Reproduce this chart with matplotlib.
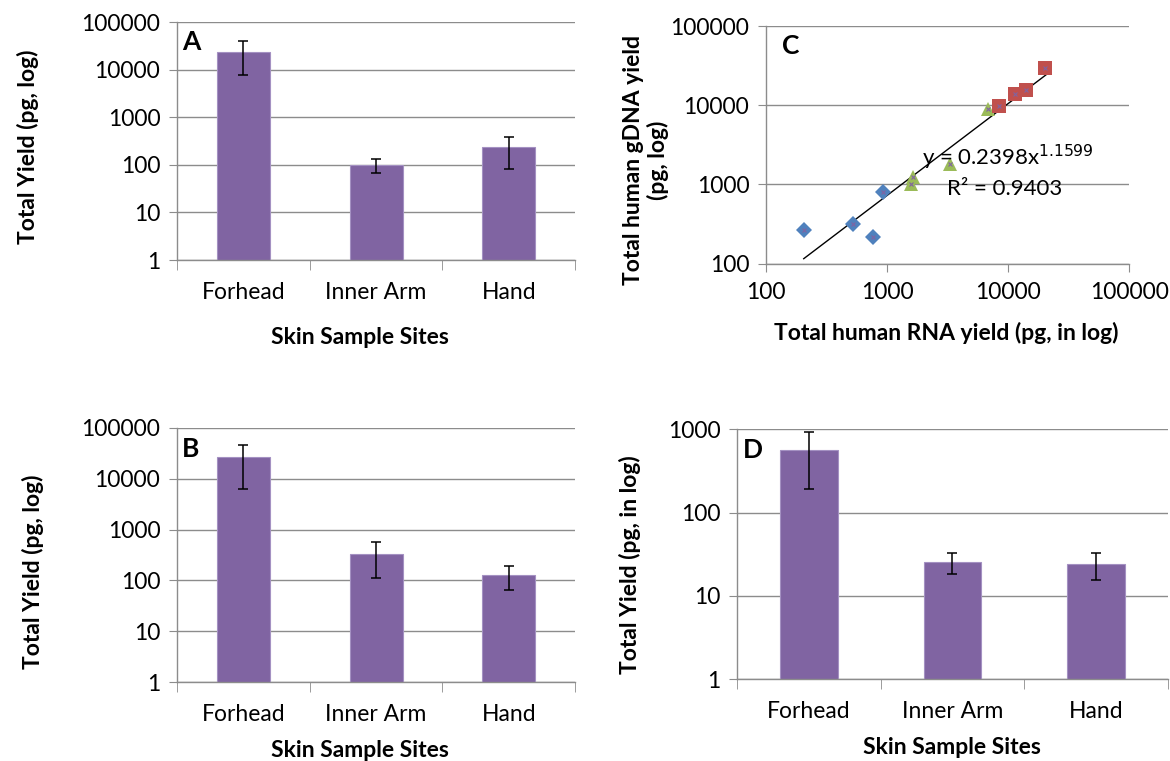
import numpy as np
import matplotlib
matplotlib.use("Agg")
import matplotlib.pyplot as plt
from matplotlib.ticker import FixedLocator, FixedFormatter, NullLocator

plt.rcParams['font.family'] = ['Lato', 'DejaVu Sans']

# ---- data ----
sites = ["Forhead", "Inner Arm", "Hand"]

a_mean = [23800, 100, 233]
a_err = [16000, 33, 150]

b_mean = [26300, 335, 130]
b_err = [20000, 225, 65]

d_mean = [565, 25.4, 24]
d_err = [373, 7, 8.5]

# panel C: RNA yield (x) vs gDNA yield (y)
c_blue_x = [205, 527, 771, 933]
c_blue_y = [269, 315, 215, 792]
c_green_x = [1578, 1651, 3335, 6840]
c_green_y = [1009, 1250, 1808, 9080]
c_red_x = [8470, 11500, 14100, 20200]
c_red_y = [9810, 13770, 15600, 29400]
fit_a, fit_b = 0.2398, 1.1599

bar_color = "#8064A2"
grid_color = "#8C8C8C"
tick_fs = 16.5
lab_fs = 16.5

fig = plt.figure(figsize=(11.7, 7.61), dpi=100)


def style_axes(ax, yticks):
    ax.set_yscale('log')
    ax.set_ylim(yticks[0], yticks[-1])
    ax.yaxis.set_major_locator(FixedLocator(yticks))
    ax.yaxis.set_major_formatter(FixedFormatter([str(t) for t in yticks]))
    ax.yaxis.set_minor_locator(NullLocator())
    ax.grid(axis='y', color=grid_color, linewidth=1.0)
    ax.set_axisbelow(True)
    for s in ['top', 'right']:
        ax.spines[s].set_visible(False)
    for s in ['left', 'bottom']:
        ax.spines[s].set_color(grid_color)
        ax.spines[s].set_linewidth(1.0)
    ax.tick_params(axis='y', which='major', length=6, color=grid_color,
                   labelsize=tick_fs, pad=6)
    ax.set_facecolor('white')


def bar_panel(rect, mean, err, yticks, letter, ylabel, ylab_xy, xlab_xy):
    ax = fig.add_axes(rect)
    x = np.arange(len(sites))
    ax.bar(x, mean, width=0.4, color=bar_color, edgecolor="#A491C2",
           linewidth=0.8, zorder=2)
    ax.errorbar(x, mean, yerr=err, fmt='none', ecolor='black',
                elinewidth=1.1, capsize=3.5, capthick=1.1, zorder=3)
    style_axes(ax, yticks)
    ax.set_xlim(-0.5, len(sites) - 0.5)
    ax.set_xticks(x)
    ax.set_xticklabels(sites)
    ax.set_xticks(np.arange(len(sites) + 1) - 0.5, minor=True)
    ax.tick_params(axis='x', which='major', length=0, labelsize=tick_fs, pad=16)
    ax.tick_params(axis='x', which='minor', length=7, color=grid_color)
    ax.text(*ylab_xy, ylabel, transform=ax.transAxes, rotation=90,
            ha='center', va='center', fontsize=lab_fs, fontweight='bold')
    ax.text(*xlab_xy, "Skin Sample Sites", transform=ax.transAxes,
            ha='center', va='center', fontsize=lab_fs, fontweight='bold')
    ax.text(0.013, 0.918, letter, transform=ax.transAxes, ha='left',
            va='center', fontsize=19, fontweight='bold')
    return ax


# A
bar_panel([0.1513, 0.6583, 0.3402, 0.3127], a_mean, a_err,
          [1, 10, 100, 1000, 10000, 100000], "A", "Total Yield (pg, log)",
          (-0.374, 0.475), (0.46, -0.324))
# B
bar_panel([0.1513, 0.1038, 0.3402, 0.3338], b_mean, b_err,
          [1, 10, 100, 1000, 10000, 100000], "B", "Total Yield (pg, log)",
          (-0.362, 0.433), (0.46, -0.268))
# D
axd = bar_panel([0.6299, 0.1074, 0.3684, 0.3285], d_mean, d_err,
                [1, 10, 100, 1000], "D", "Total Yield (pg, in log)",
                (-0.248, 0.457), (0.499, -0.271))

# C
axc = fig.add_axes([0.6547, 0.6537, 0.3103, 0.3121])
style_axes(axc, [100, 1000, 10000, 100000])
axc.set_xscale('log')
axc.set_xlim(100, 100000)
xt = [100, 1000, 10000, 100000]
axc.xaxis.set_major_locator(FixedLocator(xt))
axc.xaxis.set_major_formatter(FixedFormatter([str(t) for t in xt]))
axc.xaxis.set_minor_locator(NullLocator())
axc.tick_params(axis='x', which='major', length=6, color=grid_color,
                labelsize=tick_fs, pad=7)

allx = c_blue_x + c_green_x + c_red_x
fx = np.geomspace(min(allx), max(allx) * 1.02, 50)
axc.plot(fx, fit_a * fx ** fit_b, color='black', linewidth=1.0, zorder=2)

axc.plot(c_blue_x, c_blue_y, 'D', color="#4F81BD", markersize=8,
         markeredgewidth=0, zorder=3)
axc.plot(c_green_x, c_green_y, '^', color="#9BBB59", markersize=10,
         markeredgewidth=0, zorder=3)
axc.plot(c_red_x, c_red_y, 's', color="#C0504D", markersize=10,
         markeredgewidth=0, zorder=3)
axc.plot(allx, c_blue_y + c_green_y + c_red_y, 'x', color="#8064A2",
         markersize=3, markeredgewidth=0.8, zorder=4)

axc.text(0.43, 0.445, r"y = 0.2398x$^{1.1599}$", transform=axc.transAxes,
         ha='left', va='center', fontsize=16)
axc.text(0.499, 0.315, "R² = 0.9403", transform=axc.transAxes,
         ha='left', va='center', fontsize=16)
axc.text(0.044, 0.916, "C", transform=axc.transAxes, ha='left',
         va='center', fontsize=19, fontweight='bold')
axc.text(-0.331, 0.436, "Total human gDNA yield\n(pg, log)",
         transform=axc.transAxes, rotation=90, ha='center', va='center',
         multialignment='center', fontsize=lab_fs, fontweight='bold',
         linespacing=1.15)
axc.text(0.496, -0.293, "Total human RNA yield (pg, in log)",
         transform=axc.transAxes, ha='center', va='center',
         fontsize=lab_fs, fontweight='bold')

fig.savefig("out.png", dpi=100)
